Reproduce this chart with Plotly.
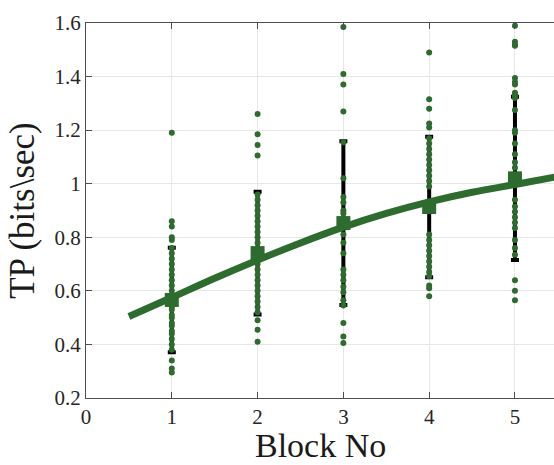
import plotly.graph_objects as go

blocks = [1, 2, 3, 4, 5]
block1_tp = [1.19, 0.86, 0.84, 0.80, 0.79, 0.76, 0.74, 0.72, 0.70, 0.68, 0.66, 0.64, 0.62, 0.60, 0.58,
             0.56, 0.54, 0.53, 0.51, 0.50, 0.48, 0.47, 0.45, 0.44, 0.42, 0.40, 0.38, 0.34, 0.31, 0.295]
block2_tp = [1.26, 1.185, 1.145, 1.105, 0.96, 0.94, 0.92, 0.90, 0.88, 0.86, 0.84, 0.82, 0.80, 0.78, 0.76,
             0.74, 0.72, 0.70, 0.68, 0.66, 0.64, 0.62, 0.60, 0.58, 0.56, 0.54, 0.52, 0.49, 0.455, 0.41]
block3_tp = [1.585, 1.41, 1.37, 1.27, 1.155, 1.02, 0.95, 0.93, 0.90, 0.89, 0.87, 0.84, 0.81, 0.78, 0.74,
             0.68, 0.66, 0.64, 0.615, 0.595, 0.565, 0.545, 0.48, 0.43, 0.405]
block4_tp = [1.49, 1.315, 1.28, 1.225, 1.21, 1.17, 1.15, 1.13, 1.11, 1.09, 1.07, 1.05, 1.03, 1.01, 0.99,
             0.81, 0.79, 0.77, 0.75, 0.73, 0.71, 0.69, 0.67, 0.655, 0.62, 0.61, 0.58]
block5_tp = [1.59, 1.53, 1.52, 1.515, 1.395, 1.38, 1.37, 1.34, 1.33, 1.32, 1.275, 1.20, 1.19, 1.15, 1.11,
             1.08, 1.06, 0.94, 0.915, 0.895, 0.875, 0.855, 0.835, 0.79, 0.76, 0.735, 0.64, 0.60, 0.565]
block_tp = [block1_tp, block2_tp, block3_tp, block4_tp, block5_tp]

mean_tp = [0.566, 0.741, 0.853, 0.913, 1.02]
std_tp = [0.195, 0.229, 0.306, 0.262, 0.305]

fit_x = [0.5, 1, 1.5, 2, 2.5, 3, 3.5, 4, 4.5, 5, 5.5]
fit_y = [0.504, 0.575, 0.647, 0.715, 0.779, 0.838, 0.889, 0.932, 0.968, 0.997, 1.027]

y_ticks = [0.2, 0.4, 0.6, 0.8, 1.0, 1.2, 1.4, 1.6]
y_ticktext = ["0.2", "0.4", "0.6", "0.8", "1", "1.2", "1.4", "1.6"]
x_ticks = [0, 1, 2, 3, 4, 5]

GREEN = "#2e6b2f"
FONT = "Liberation Serif"

fig = go.Figure()

# error bars (black)
fig.add_trace(go.Scatter(
    x=blocks, y=mean_tp, mode="markers",
    marker=dict(size=1, color="rgba(0,0,0,0)"),
    error_y=dict(type="data", array=std_tp, visible=True, color="black", thickness=4, width=4),
    showlegend=False, hoverinfo="skip"))

# individual points
px, py = [], []
for b, vals in zip(blocks, block_tp):
    px += [b] * len(vals)
    py += vals
fig.add_trace(go.Scatter(
    x=px, y=py, mode="markers",
    marker=dict(size=6, color=GREEN),
    showlegend=False))

# means
fig.add_trace(go.Scatter(
    x=blocks, y=mean_tp, mode="markers",
    marker=dict(size=14, color=GREEN, symbol="square"),
    showlegend=False))

# fit curve
fig.add_trace(go.Scatter(
    x=fit_x, y=fit_y, mode="lines",
    line=dict(color=GREEN, width=7, shape="spline"),
    showlegend=False))

fig.update_layout(
    width=554, height=465,
    margin=dict(l=86, r=0, t=23, b=67),
    paper_bgcolor="white", plot_bgcolor="white",
    font=dict(family=FONT, size=21, color="#262626"),
    xaxis=dict(
        range=[0, 5.455], tickvals=x_ticks, ticks="inside", ticklen=6, tickcolor="#4d4d4d",
        showline=True, linecolor="#4d4d4d", linewidth=1, mirror="ticks",
        showgrid=True, gridcolor="#e6e6e6", zeroline=False, automargin=False,
        tickfont=dict(family=FONT, size=21, color="#262626"),
    ),
    yaxis=dict(
        range=[0.2, 1.6], tickvals=y_ticks, ticktext=y_ticktext, ticks="inside", ticklen=6,
        tickcolor="#4d4d4d",
        showline=True, linecolor="#4d4d4d", linewidth=1, automargin=False,
        showgrid=True, gridcolor="#e6e6e6", zeroline=False,
        tickfont=dict(family=FONT, size=21, color="#262626"),
    ),
    annotations=[
        dict(text="Block No", xref="paper", yref="paper", x=0.5, y=-0.126,
             xanchor="center", yanchor="middle", showarrow=False,
             font=dict(family=FONT, size=34, color="#1a1a1a")),
        dict(text="TP (bits\\sec)", xref="paper", yref="paper", x=-0.136, y=0.5,
             xanchor="center", yanchor="middle", textangle=-90, showarrow=False,
             font=dict(family=FONT, size=35, color="#1a1a1a")),
    ],
)

fig.write_html("out.html", config={"displayModeBar": False},
               post_script="document.body.style.margin='0';document.body.style.overflow='hidden';")
